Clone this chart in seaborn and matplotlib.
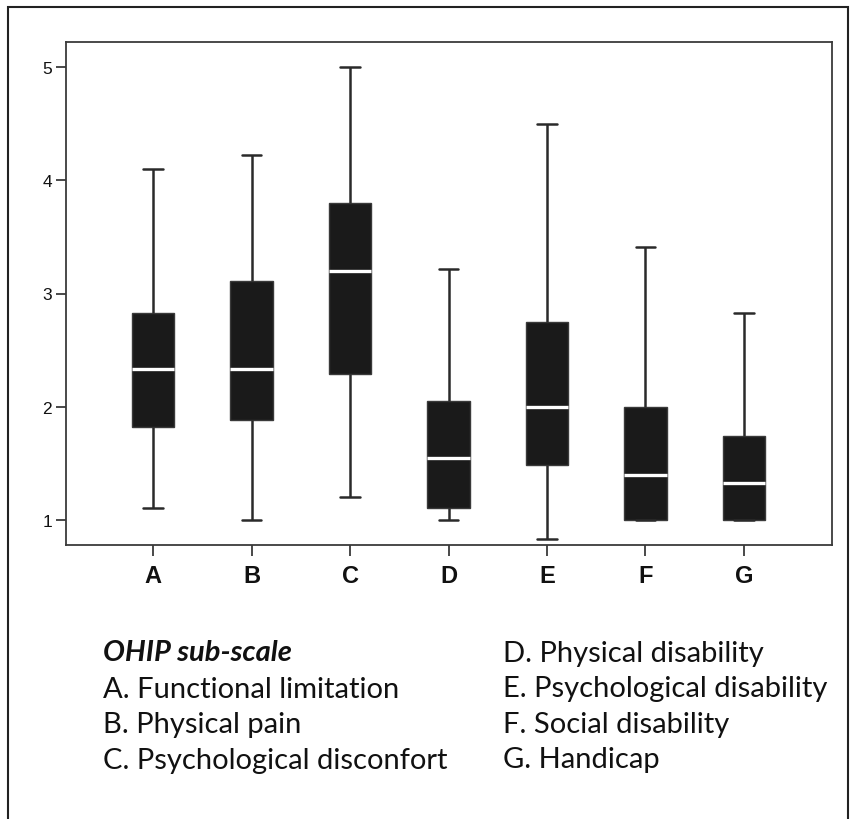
import numpy as np
import pandas as pd
import matplotlib
matplotlib.use("Agg")
import matplotlib.pyplot as plt
from matplotlib.patches import Rectangle
import seaborn as sns

# OHIP sub-scale scores: five-number summaries per sub-scale
categories = ["A", "B", "C", "D", "E", "F", "G"]
mins = [1.11, 1.00, 1.20, 1.00, 0.83, 1.00, 1.00]
q1 = [1.82, 1.88, 2.29, 1.11, 1.49, 1.00, 1.00]
medians = [2.33, 2.33, 3.20, 1.55, 2.00, 1.40, 1.33]
q3 = [2.83, 3.11, 3.80, 2.05, 2.75, 2.00, 1.74]
maxs = [4.10, 4.22, 5.00, 3.22, 4.50, 3.41, 2.83]

y_ticks = [1, 2, 3, 4, 5]

legend_title = "OHIP sub-scale"
legend_left = ["A. Functional limitation", "B. Physical pain",
               "C. Psychological disconfort"]
legend_right = ["D. Physical disability", "E. Psychological disability",
                "F. Social disability", "G. Handicap"]

# long-form table: each sub-scale carries its min, Q1, median, Q3, max
rows = []
for c, a, b, m, d, e in zip(categories, mins, q1, medians, q3, maxs):
    for v in (a, b, m, d, e):
        rows.append({"scale": c, "score": v})
df = pd.DataFrame(rows)

sns.set_theme(style="white")
fig = plt.figure(figsize=(8.55, 8.20), dpi=100)
ax = fig.add_axes([66 / 855, 1 - 546 / 820, (832 - 66) / 855, (546 - 43) / 820])

line_c = "#2a2a2a"
sns.boxplot(
    data=df, x="scale", y="score", order=categories, ax=ax,
    whis=(0, 100), width=0.43, color="#1a1a1a", linecolor=line_c,
    linewidth=1.6, fliersize=0,
    boxprops=dict(facecolor="#1a1a1a", edgecolor="#3a3a3a", linewidth=1.0),
    medianprops=dict(color="white", linewidth=2.4),
    whiskerprops=dict(color=line_c, linewidth=1.8),
    capprops=dict(color=line_c, linewidth=1.8),
    capwidths=0.2,
)

ax.set_xlim(-0.885, 6.895)
ax.set_ylim(0.78, 5.22)
ax.set_yticks(y_ticks)
ax.set_yticklabels([str(t) for t in y_ticks], fontsize=12.5,
                   family="Liberation Sans", color="#111111")
ax.set_xticks(range(len(categories)))
ax.set_xticklabels(categories, fontsize=17, fontweight="bold",
                   family="Liberation Sans", color="#111111")
ax.set_xlabel("")
ax.set_ylabel("")
for s in ax.spines.values():
    s.set_visible(True)
    s.set_color("#3a3a3a")
    s.set_linewidth(1.3)
ax.tick_params(axis="y", which="major", direction="out", length=7,
               width=1.3, color="#3a3a3a", pad=3, left=True)
ax.tick_params(axis="x", which="major", direction="out", length=8,
               width=1.3, color="#3a3a3a", pad=6, bottom=True)

# sub-scale key below the plot
txt_font = ["Lato", "DejaVu Sans"]
fig.text(103 / 855, 1 - 653 / 820, legend_title, fontsize=21,
         fontweight="bold", fontstyle="italic", family=txt_font,
         va="center", ha="left", color="#111111")
for i, s in enumerate(legend_left):
    fig.text(103 / 855, 1 - (690 + 35.5 * i) / 820, s, fontsize=21,
             family=txt_font, va="center", ha="left", color="#111111")
for i, s in enumerate(legend_right):
    fig.text(503 / 855, 1 - (654 + 35.5 * i) / 820, s, fontsize=21,
             family=txt_font, va="center", ha="left", color="#111111")

# outer frame
fig.patches.append(Rectangle((8 / 855, -0.05), 840 / 855, 1 - 8 / 820 + 0.05,
                             transform=fig.transFigure, fill=False,
                             edgecolor="#222222", linewidth=1.5))

fig.savefig("out.png", dpi=100, facecolor="white")
